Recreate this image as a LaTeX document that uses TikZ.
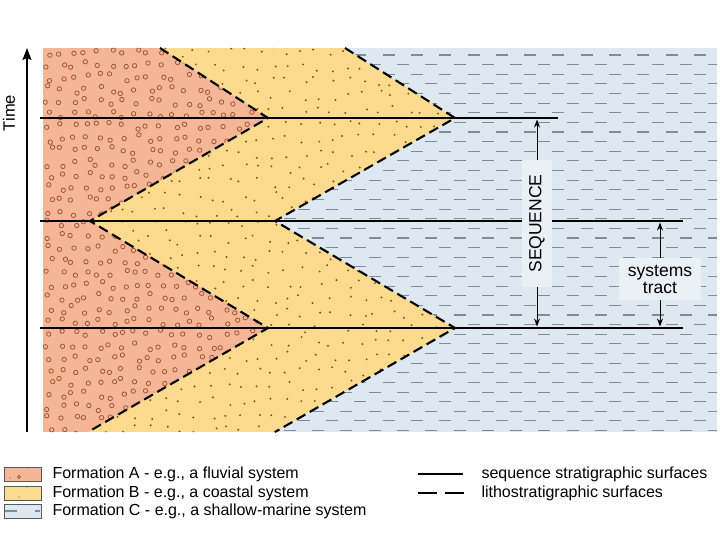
\documentclass[tikz,border=0pt]{standalone}
\usepackage{fontspec}
\setsansfont{Liberation Sans}
\usetikzlibrary{positioning,arrows.meta}
\definecolor{formAfill}{RGB}{245,182,152}
\definecolor{formBfill}{RGB}{252,218,142}
\definecolor{formCfill}{RGB}{221,232,241}
\definecolor{formCdash}{RGB}{128,140,154}
\definecolor{pebble}{RGB}{160,82,48}
\definecolor{grain}{RGB}{130,85,35}
\tikzset{
  seqLine/.style={line width=1.9pt},
  lithoLine/.style={line width=2.1pt, dash pattern=on 10pt off 5pt},
  marineDash/.style={draw=formCdash, line width=1.1pt, dash pattern=on 12pt off 16.3pt},
  pebbleMark/.style={draw=pebble, line width=0.75pt},
%  grainMark/.style={fill=grain},
  tagBox/.style={fill=formCfill!65!white, font=\sffamily\fontsize{17.5}{17}\selectfont},
  tagArrow/.style={-{Stealth[length=8pt,width=6pt]}, line width=1pt},
  timeArrow/.style={-{Stealth[length=12pt,width=9pt,inset=2pt]}, line width=1.5pt},
  legendBox/.style={draw=black!65, line width=0.8pt},
  legendText/.style={anchor=west, font=\sffamily\fontsize{16}{19}\selectfont}
}
\begin{document}
\begin{tikzpicture}[x=1pt, y=-1pt, font=\sffamily]
  \useasboundingbox (0,0) rectangle (720,540);
  \pgfmathsetseed{11}
  % formation C, shallow marine
  \fill[formCfill] (43,48) rectangle (717,432);
  \foreach \r in {0,...,19} {
    \draw[marineDash] (43,55+19.26*\r) -- (717,55+19.26*\r);
    \draw[marineDash, dash phase=14pt] (43,64.63+19.26*\r) -- (717,64.63+19.26*\r);
  }
  % formation B, coastal
  \begin{scope}
    \clip (160,48) -- (345,48) -- (455,118) -- (275,221) -- (455,328) -- (275,432)
      -- (88,432) -- (268,328) -- (90,221) -- (268,118) -- cycle;
    \fill[formBfill] (88,48) rectangle (460,432);
    \foreach \i in {0,...,24}
      \foreach \j in {0,...,26}
        \fill[grain] (92+15*\i+5*rand, 52+14.5*\j+5*rand) circle[radius=1.1pt];
  \end{scope}
  % formation A, fluvial
  \begin{scope}
    \clip (43,48) -- (160,48) -- (268,118) -- (90,221) -- (268,328) -- (88,432)
      -- (43,432) -- cycle;
    \fill[formAfill] (43,48) rectangle (280,432);
    \foreach \i in {0,...,18}
      \foreach \j in {0,...,31}
        \draw[pebbleMark] (49+12.5*\i+4*rand, 53+12.2*\j+4*rand) circle[radius=2.2pt];
  \end{scope}
  % lithostratigraphic surfaces
  \draw[lithoLine] (160,48) -- (268,118) -- (90,221) -- (268,328) -- (88,432);
  \draw[lithoLine] (345,48) -- (455,118) -- (275,221) -- (455,328) -- (275,432);
  % sequence stratigraphic surfaces
  \draw[seqLine] (40,118) -- (558,118);
  \draw[seqLine] (40,221) -- (683,221);
  \draw[seqLine] (40,328) -- (683,328);
  % sequence and systems tract
  \node[tagBox, rotate=90, inner xsep=14.5pt, inner ysep=7pt] (seq) at (537,223.5) {SEQUENCE};
  \node[tagBox, align=center, inner xsep=8.5pt, inner ysep=6.5pt] (tract) at (660,279) {systems\\tract};
  \coordinate (seqTop) at (537,119.5);
  \coordinate (seqBot) at (537,326.5);
  \coordinate (tractTop) at (660,222.5);
  \coordinate (tractBot) at (660,326.5);
  \draw[tagArrow] (seq.east) -- (seqTop);
  \draw[tagArrow] (seq.west) -- (seqBot);
  \draw[tagArrow] (tract.north) -- (tractTop);
  \draw[tagArrow] (tract.south) -- (tractBot);
  % time axis
  \coordinate (timeBase) at (27,432);
  \coordinate (timeTip) at (27,48);
  \draw[timeArrow] (timeBase) -- (timeTip);
  \node[rotate=90, font=\sffamily\fontsize{16.5}{18}\selectfont] (timeLabel) at (9,113) {Time};
  % legend
  \draw[legendBox, fill=formAfill] (4,467) rectangle (41,481);
  \draw[pebbleMark] (19,477) circle[radius=1.6pt];
  \fill[grain] (10,478) circle[radius=0.7pt] (27,468) circle[radius=0.7pt];
  \draw[legendBox, fill=formBfill] (4,486) rectangle (41,500);
  \fill[grain] (27,487) circle[radius=0.7pt] (19,497) circle[radius=0.7pt];
  \draw[legendBox, fill=formCfill] (4,504) rectangle (41,518);
  \draw[marineDash, dash pattern=] (5,511) -- (17,511) (35,511) -- (40,511);
  \node[legendText] (legA) at (49,474) {Formation A - e.g., a fluvial system};
  \node[legendText] (legB) at (49,493) {Formation B - e.g., a coastal system};
  \node[legendText] (legC) at (49,511) {Formation C - e.g., a shallow-marine system};
  \draw[seqLine] (418,474) -- (463,474);
  \draw[lithoLine, dash pattern=on 19pt off 8pt] (418,493) -- (464,493);
  \node[legendText] (legSeq) at (478,474) {sequence stratigraphic surfaces};
  \node[legendText] (legLitho) at (478,493) {lithostratigraphic surfaces};
\end{tikzpicture}
\end{document}
